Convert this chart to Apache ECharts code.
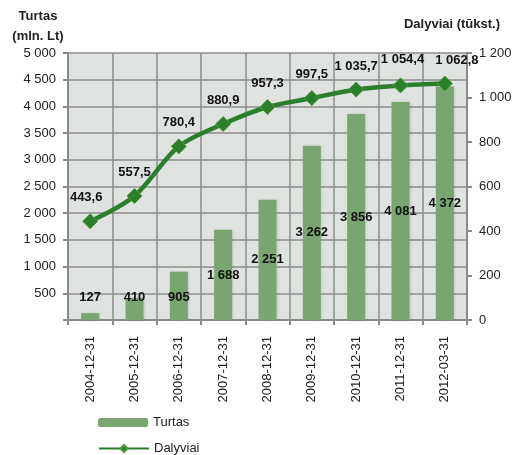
<!DOCTYPE html>
<html>
<head>
<meta charset="utf-8">
<script src="https://cdn.jsdelivr.net/npm/echarts@6/dist/echarts.min.js"></script>
<style>
    html, body { margin: 0; padding: 0; background: #fff; }
    #chart { width: 525px; height: 455px; }
</style>
</head>
<body>
<div id="chart"></div>
<script>
    // dates on the x axis
    var categories = ['2004-12-31', '2005-12-31', '2006-12-31', '2007-12-31', '2008-12-31',
        '2009-12-31', '2010-12-31', '2011-12-31', '2012-03-31'];
    // Turtas (mln. Lt) - bars, left axis
    var turtas = [127, 410, 905, 1688, 2251, 3262, 3856, 4081, 4372];
    // Dalyviai (tūkst.) - line, right axis
    var dalyviai = [443.6, 557.5, 780.4, 880.9, 957.3, 997.5, 1035.7, 1054.4, 1062.8];
    var leftTicks = { min: 0, max: 5000, interval: 500 };
    var rightTicks = { min: 0, max: 1200, interval: 200 };

    var font = '"Liberation Sans", Arial, sans-serif';

    // 1035.7 -> "1 035,7"
    function fmt(v, dec) {
        var s = v.toFixed(dec).split('.');
        var int = s[0].replace(/\B(?=(\d{3})+(?!\d))/g, ' ');
        return s.length > 1 ? int + ',' + s[1] : int;
    }

    var barData = turtas.map(function (v, i) {
        // small bars keep their labels a little above the base
        if (i < 3) {
            return { value: v, label: { position: 'insideBottom', distance: 16 } };
        }
        return v;
    });

    // the labels of the last points are nudged apart so they don't collide
    var lineData = dalyviai.map(function (v, i) {
        if (i === 0) return { value: v, label: { offset: [-4, 0] } };
        if (i === dalyviai.length - 2) return { value: v, label: { offset: [2, -2] } };
        if (i === dalyviai.length - 1) return { value: v, label: { offset: [12, 0] } };
        return v;
    });

    var legendText = { fontSize: 13, color: '#222', fontFamily: font };

    var chart = echarts.init(document.getElementById('chart'));
    chart.setOption({
        animation: false,
        textStyle: { fontFamily: font },
        grid: { left: 68, right: 58, top: 53, bottom: 135, show: true, backgroundColor: '#dfe3df', borderWidth: 0 },
        legend: [
            { left: 93, top: 411, itemWidth: 50, itemHeight: 9, textStyle: legendText, data: ['Turtas'] },
            { left: 93, top: 437, itemWidth: 50, itemHeight: 9, textStyle: legendText, data: ['Dalyviai'] }
        ],
        xAxis: {
            type: 'category',
            data: categories,
            boundaryGap: true,
            axisLine: { lineStyle: { color: '#8a8a8a', width: 2 } },
            axisTick: { show: true, length: 5, lineStyle: { color: '#8a8a8a', width: 2 } },
            splitLine: { show: true, lineStyle: { color: '#8c8c8c', width: 1.5 } },
            axisLabel: { rotate: 90, fontSize: 13, color: '#222', margin: 16, interval: 0 }
        },
        yAxis: [
            {
                type: 'value',
                min: leftTicks.min, max: leftTicks.max, interval: leftTicks.interval,
                name: 'Turtas\n(mln. Lt)',
                nameLocation: 'end',
                nameGap: 6,
                nameTextStyle: { fontWeight: 'bold', fontSize: 13, color: '#222', align: 'center', lineHeight: 20, padding: [0, 60, 0, 0] },
                axisLine: { show: true, lineStyle: { color: '#8a8a8a', width: 2 } },
                axisTick: { show: true, length: 5, lineStyle: { color: '#8a8a8a', width: 2 } },
                splitLine: { show: true, lineStyle: { color: '#8c8c8c', width: 1.5 } },
                axisLabel: {
                    fontSize: 13, color: '#222', margin: 12,
                    formatter: function (v) { return v === 0 ? '' : fmt(v, 0); }
                }
            },
            {
                type: 'value',
                min: rightTicks.min, max: rightTicks.max, interval: rightTicks.interval,
                name: 'Dalyviai (tūkst.)',
                nameLocation: 'end',
                nameGap: 22,
                nameTextStyle: { fontWeight: 'bold', fontSize: 13, color: '#222', align: 'center', padding: [0, 30, 0, 0] },
                axisLine: { show: true, lineStyle: { color: '#8a8a8a', width: 2 } },
                axisTick: { show: true, length: 5, lineStyle: { color: '#8a8a8a', width: 2 } },
                splitLine: { show: false },
                axisLabel: {
                    fontSize: 13, color: '#222', margin: 12,
                    formatter: function (v) { return fmt(v, 0); }
                }
            }
        ],
        series: [
            {
                name: 'Turtas',
                type: 'bar',
                yAxisIndex: 0,
                barWidth: 18,
                data: barData,
                itemStyle: { color: '#78a570', shadowColor: 'rgba(0,0,0,0.15)', shadowBlur: 3, shadowOffsetX: 1 },
                label: {
                    show: true,
                    position: 'inside',
                    fontWeight: 'bold',
                    fontSize: 13,
                    color: '#111',
                    fontFamily: font,
                    formatter: function (p) { return fmt(p.value, 0); }
                },
                z: 2
            },
            {
                name: 'Dalyviai',
                type: 'line',
                yAxisIndex: 1,
                data: lineData,
                smooth: 0.3,
                symbol: 'diamond',
                symbolSize: 15,
                lineStyle: { color: '#2a7e2c', width: 4.5 },
                itemStyle: { color: '#2a7e2c', borderColor: '#4f9a3c', borderWidth: 1 },
                label: {
                    show: true,
                    position: 'top',
                    distance: 9,
                    fontWeight: 'bold',
                    fontSize: 13,
                    color: '#111',
                    fontFamily: font,
                    formatter: function (p) { return fmt(p.value, 1); }
                },
                z: 3
            }
        ]
    });
</script>
</body>
</html>
